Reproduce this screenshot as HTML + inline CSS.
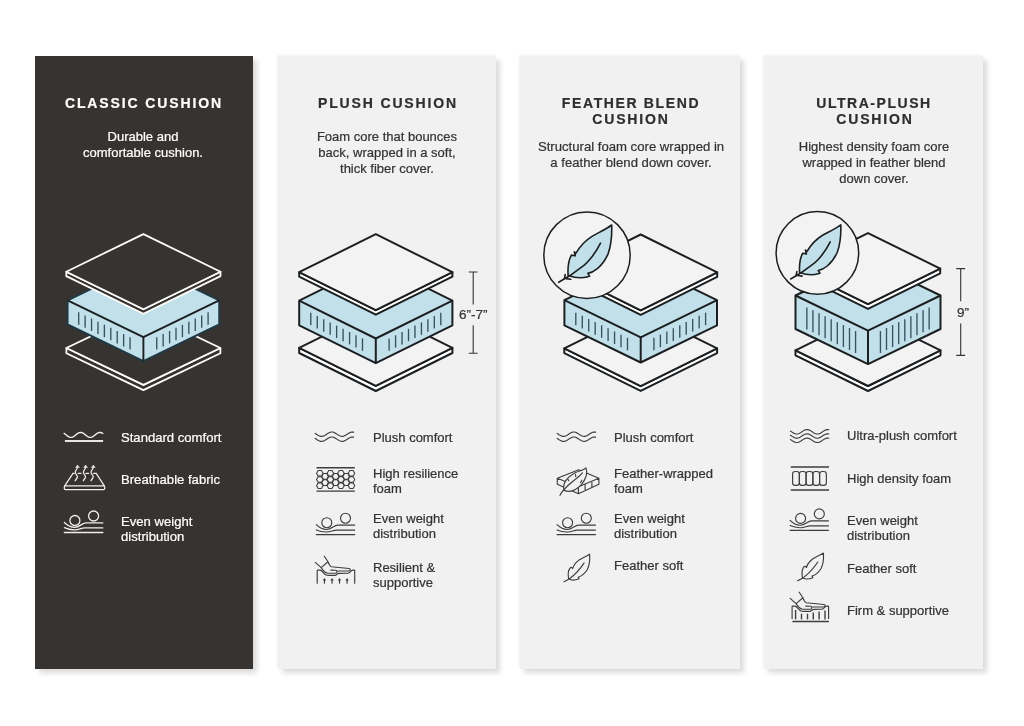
<!DOCTYPE html>
<html><head><meta charset="utf-8"><title>Cushion comparison</title>
<style>
html,body{margin:0;padding:0;background:#fff;}
html{width:1024px;height:726px;overflow:hidden;}
body{width:1024px;height:726px;position:relative;overflow:hidden;font-family:"Liberation Sans", sans-serif;}
.t{will-change:transform;-webkit-text-stroke:0.22px currentColor;}
.card{position:absolute;}
</style></head><body>
<div class="card" style="left:34.5px;top:56.4px;width:218.6px;height:612.4px;background:#363331;box-shadow:4px 4px 5px rgba(0,0,0,0.14)"></div>
<div class="card" style="left:277.7px;top:56.4px;width:218.2px;height:612.4px;background:#f1f1f1;box-shadow:4px 4px 5px rgba(0,0,0,0.14),-1px -1px 2px #f1f1f1"></div>
<div class="card" style="left:519.8px;top:56.4px;width:220.1px;height:612.4px;background:#f1f1f1;box-shadow:4px 4px 5px rgba(0,0,0,0.14),-1px -1px 2px #f1f1f1"></div>
<div class="card" style="left:764.0px;top:56.4px;width:218.8px;height:612.4px;background:#f1f1f1;box-shadow:4px 4px 5px rgba(0,0,0,0.14),-1px -1px 2px #f1f1f1"></div>
<div class="t" style="position:absolute;top:95px;left:36.04px;width:216px;text-align:center;font-size:14px;line-height:16px;color:#ffffff;font-weight:bold;letter-spacing:1.89px;white-space:nowrap;">CLASSIC CUSHION</div>
<div class="t" style="position:absolute;top:95px;left:279.93px;width:216px;text-align:center;font-size:14px;line-height:16px;color:#2e2e2e;font-weight:bold;letter-spacing:1.85px;white-space:nowrap;">PLUSH CUSHION</div>
<div class="t" style="position:absolute;top:95px;left:523.32px;width:216px;text-align:center;font-size:14px;line-height:16px;color:#2e2e2e;font-weight:bold;letter-spacing:1.63px;white-space:nowrap;">FEATHER BLEND</div>
<div class="t" style="position:absolute;top:111px;left:523.43px;width:216px;text-align:center;font-size:14px;line-height:16px;color:#2e2e2e;font-weight:bold;letter-spacing:1.87px;white-space:nowrap;">CUSHION</div>
<div class="t" style="position:absolute;top:95px;left:766.47px;width:216px;text-align:center;font-size:14px;line-height:16px;color:#2e2e2e;font-weight:bold;letter-spacing:1.54px;white-space:nowrap;">ULTRA-PLUSH</div>
<div class="t" style="position:absolute;top:111px;left:766.63px;width:216px;text-align:center;font-size:14px;line-height:16px;color:#2e2e2e;font-weight:bold;letter-spacing:1.87px;white-space:nowrap;">CUSHION</div>
<div class="t" style="position:absolute;top:129px;left:35.10px;width:216px;text-align:center;font-size:13px;line-height:16px;color:#ffffff;font-weight:normal;letter-spacing:0px;white-space:nowrap;">Durable and</div>
<div class="t" style="position:absolute;top:145px;left:35.10px;width:216px;text-align:center;font-size:13px;line-height:16px;color:#ffffff;font-weight:normal;letter-spacing:0px;white-space:nowrap;">comfortable cushion.</div>
<div class="t" style="position:absolute;top:129px;left:279.00px;width:216px;text-align:center;font-size:13px;line-height:16px;color:#333333;font-weight:normal;letter-spacing:0px;white-space:nowrap;">Foam core that bounces</div>
<div class="t" style="position:absolute;top:145px;left:279.00px;width:216px;text-align:center;font-size:13px;line-height:16px;color:#333333;font-weight:normal;letter-spacing:0px;white-space:nowrap;">back, wrapped in a soft,</div>
<div class="t" style="position:absolute;top:161px;left:279.00px;width:216px;text-align:center;font-size:13px;line-height:16px;color:#333333;font-weight:normal;letter-spacing:0px;white-space:nowrap;">thick fiber cover.</div>
<div class="t" style="position:absolute;top:139px;left:522.50px;width:216px;text-align:center;font-size:13.15px;line-height:16px;color:#333333;font-weight:normal;letter-spacing:0px;white-space:nowrap;">Structural foam core wrapped in</div>
<div class="t" style="position:absolute;top:155px;left:522.50px;width:216px;text-align:center;font-size:13.15px;line-height:16px;color:#333333;font-weight:normal;letter-spacing:0px;white-space:nowrap;">a feather blend down cover.</div>
<div class="t" style="position:absolute;top:139px;left:765.70px;width:216px;text-align:center;font-size:13px;line-height:16px;color:#333333;font-weight:normal;letter-spacing:0px;white-space:nowrap;">Highest density foam core</div>
<div class="t" style="position:absolute;top:155px;left:765.70px;width:216px;text-align:center;font-size:13px;line-height:16px;color:#333333;font-weight:normal;letter-spacing:0px;white-space:nowrap;">wrapped in feather blend</div>
<div class="t" style="position:absolute;top:171px;left:765.70px;width:216px;text-align:center;font-size:13px;line-height:16px;color:#333333;font-weight:normal;letter-spacing:0px;white-space:nowrap;">down cover.</div>
<div class="t" style="position:absolute;top:430px;left:121.30px;font-size:13.1px;line-height:16px;color:#ffffff;font-weight:normal;letter-spacing:0px;white-space:nowrap;">Standard comfort</div>
<div class="t" style="position:absolute;top:472px;left:121.30px;font-size:13.1px;line-height:16px;color:#ffffff;font-weight:normal;letter-spacing:0px;white-space:nowrap;">Breathable fabric</div>
<div class="t" style="position:absolute;top:514px;left:121.30px;font-size:13.1px;line-height:16px;color:#ffffff;font-weight:normal;letter-spacing:0px;white-space:nowrap;">Even weight</div>
<div class="t" style="position:absolute;top:529px;left:121.30px;font-size:13.1px;line-height:16px;color:#ffffff;font-weight:normal;letter-spacing:0px;white-space:nowrap;">distribution</div>
<div class="t" style="position:absolute;top:430px;left:373.10px;font-size:13px;line-height:16px;color:#333333;font-weight:normal;letter-spacing:0px;white-space:nowrap;">Plush comfort</div>
<div class="t" style="position:absolute;top:466px;left:373.10px;font-size:13px;line-height:16px;color:#333333;font-weight:normal;letter-spacing:0px;white-space:nowrap;">High resilience</div>
<div class="t" style="position:absolute;top:481px;left:373.10px;font-size:13px;line-height:16px;color:#333333;font-weight:normal;letter-spacing:0px;white-space:nowrap;">foam</div>
<div class="t" style="position:absolute;top:511px;left:373.10px;font-size:13px;line-height:16px;color:#333333;font-weight:normal;letter-spacing:0px;white-space:nowrap;">Even weight</div>
<div class="t" style="position:absolute;top:526px;left:373.10px;font-size:13px;line-height:16px;color:#333333;font-weight:normal;letter-spacing:0px;white-space:nowrap;">distribution</div>
<div class="t" style="position:absolute;top:560px;left:373.10px;font-size:13px;line-height:16px;color:#333333;font-weight:normal;letter-spacing:0px;white-space:nowrap;">Resilient &amp;</div>
<div class="t" style="position:absolute;top:575px;left:373.10px;font-size:13px;line-height:16px;color:#333333;font-weight:normal;letter-spacing:0px;white-space:nowrap;">supportive</div>
<div class="t" style="position:absolute;top:430px;left:614.10px;font-size:13px;line-height:16px;color:#333333;font-weight:normal;letter-spacing:0px;white-space:nowrap;">Plush comfort</div>
<div class="t" style="position:absolute;top:466px;left:614.10px;font-size:13px;line-height:16px;color:#333333;font-weight:normal;letter-spacing:0px;white-space:nowrap;">Feather-wrapped</div>
<div class="t" style="position:absolute;top:481px;left:614.10px;font-size:13px;line-height:16px;color:#333333;font-weight:normal;letter-spacing:0px;white-space:nowrap;">foam</div>
<div class="t" style="position:absolute;top:511px;left:614.10px;font-size:13px;line-height:16px;color:#333333;font-weight:normal;letter-spacing:0px;white-space:nowrap;">Even weight</div>
<div class="t" style="position:absolute;top:526px;left:614.10px;font-size:13px;line-height:16px;color:#333333;font-weight:normal;letter-spacing:0px;white-space:nowrap;">distribution</div>
<div class="t" style="position:absolute;top:558px;left:614.10px;font-size:13px;line-height:16px;color:#333333;font-weight:normal;letter-spacing:0px;white-space:nowrap;">Feather soft</div>
<div class="t" style="position:absolute;top:428px;left:847.30px;font-size:13px;line-height:16px;color:#333333;font-weight:normal;letter-spacing:0px;white-space:nowrap;">Ultra-plush comfort</div>
<div class="t" style="position:absolute;top:471px;left:847.30px;font-size:13px;line-height:16px;color:#333333;font-weight:normal;letter-spacing:0px;white-space:nowrap;">High density foam</div>
<div class="t" style="position:absolute;top:513px;left:847.30px;font-size:13px;line-height:16px;color:#333333;font-weight:normal;letter-spacing:0px;white-space:nowrap;">Even weight</div>
<div class="t" style="position:absolute;top:528px;left:847.30px;font-size:13px;line-height:16px;color:#333333;font-weight:normal;letter-spacing:0px;white-space:nowrap;">distribution</div>
<div class="t" style="position:absolute;top:561px;left:847.30px;font-size:13px;line-height:16px;color:#333333;font-weight:normal;letter-spacing:0px;white-space:nowrap;">Feather soft</div>
<div class="t" style="position:absolute;top:603px;left:847.30px;font-size:13px;line-height:16px;color:#333333;font-weight:normal;letter-spacing:0px;white-space:nowrap;">Firm &amp; supportive</div>
<div class="t" style="position:absolute;top:307px;left:459.30px;font-size:13.5px;line-height:16px;color:#333333;font-weight:normal;letter-spacing:0px;white-space:nowrap;">6”-7”</div>
<div class="t" style="position:absolute;top:305px;left:957.00px;font-size:13.5px;line-height:16px;color:#333333;font-weight:normal;letter-spacing:0px;white-space:nowrap;">9”</div>
<svg width="1024" height="726" viewBox="0 0 1024 726" style="position:absolute;left:0;top:0"><polygon points="66.40,348.00 66.40,353.20 143.40,390.10 220.40,353.20 220.40,348.00 143.40,384.90" fill="#363331" stroke="#ffffff" stroke-width="1.75" stroke-linejoin="round"/>
<polygon points="143.40,311.10 220.40,348.00 143.40,384.90 66.40,348.00" fill="#363331" stroke="#ffffff" stroke-width="1.75" stroke-linejoin="round"/>
<polygon points="143.40,263.60 219.20,300.40 219.20,324.40 143.40,361.20 67.60,324.40 67.60,300.40" fill="#c1e0e9" stroke="#1f3a44" stroke-width="1.9" stroke-linejoin="round"/>
<polyline points="67.60,300.40 143.40,337.20 219.20,300.40" fill="none" stroke="#1c1f21" stroke-width="1.9" stroke-linejoin="round"/>
<line x1="143.40" y1="337.20" x2="143.40" y2="361.20" stroke="#1c1f21" stroke-width="1.9"/>
<line x1="78.70" y1="312.29" x2="78.70" y2="324.69" stroke="#35535f" stroke-width="1.35"/>
<line x1="208.10" y1="312.29" x2="208.10" y2="324.69" stroke="#35535f" stroke-width="1.35"/>
<line x1="85.12" y1="315.41" x2="85.12" y2="327.81" stroke="#35535f" stroke-width="1.35"/>
<line x1="201.68" y1="315.41" x2="201.68" y2="327.81" stroke="#35535f" stroke-width="1.35"/>
<line x1="91.54" y1="318.52" x2="91.54" y2="330.92" stroke="#35535f" stroke-width="1.35"/>
<line x1="195.26" y1="318.52" x2="195.26" y2="330.92" stroke="#35535f" stroke-width="1.35"/>
<line x1="97.96" y1="321.64" x2="97.96" y2="334.04" stroke="#35535f" stroke-width="1.35"/>
<line x1="188.84" y1="321.64" x2="188.84" y2="334.04" stroke="#35535f" stroke-width="1.35"/>
<line x1="104.38" y1="324.76" x2="104.38" y2="337.16" stroke="#35535f" stroke-width="1.35"/>
<line x1="182.42" y1="324.76" x2="182.42" y2="337.16" stroke="#35535f" stroke-width="1.35"/>
<line x1="110.80" y1="327.87" x2="110.80" y2="340.27" stroke="#35535f" stroke-width="1.35"/>
<line x1="176.00" y1="327.87" x2="176.00" y2="340.27" stroke="#35535f" stroke-width="1.35"/>
<line x1="117.22" y1="330.99" x2="117.22" y2="343.39" stroke="#35535f" stroke-width="1.35"/>
<line x1="169.58" y1="330.99" x2="169.58" y2="343.39" stroke="#35535f" stroke-width="1.35"/>
<line x1="123.64" y1="334.11" x2="123.64" y2="346.51" stroke="#35535f" stroke-width="1.35"/>
<line x1="163.16" y1="334.11" x2="163.16" y2="346.51" stroke="#35535f" stroke-width="1.35"/>
<line x1="130.06" y1="337.22" x2="130.06" y2="349.62" stroke="#35535f" stroke-width="1.35"/>
<line x1="156.74" y1="337.22" x2="156.74" y2="349.62" stroke="#35535f" stroke-width="1.35"/>
<polygon points="66.30,271.70 66.30,276.10 143.40,313.70 220.50,276.10 220.50,271.70 143.40,309.30" fill="#363331" stroke="#ffffff" stroke-width="1.75" stroke-linejoin="round"/>
<polygon points="143.40,234.10 220.50,271.70 143.40,309.30 66.30,271.70" fill="#363331" stroke="#ffffff" stroke-width="1.75" stroke-linejoin="round"/>
<polygon points="299.20,347.80 299.20,353.00 375.80,391.00 452.40,353.00 452.40,347.80 375.80,385.80" fill="#ffffff" stroke="#1c1f21" stroke-width="2.0" stroke-linejoin="round"/>
<polygon points="375.80,309.80 452.40,347.80 375.80,385.80 299.20,347.80" fill="#f3f3f3" stroke="#1c1f21" stroke-width="2.0" stroke-linejoin="round"/>
<polygon points="375.80,262.70 452.40,300.60 452.40,325.30 375.80,363.20 299.20,325.30 299.20,300.60" fill="#c1e0e9" stroke="#1c1f21" stroke-width="2.0" stroke-linejoin="round"/>
<polyline points="299.20,300.60 375.80,338.50 452.40,300.60" fill="none" stroke="#1c1f21" stroke-width="2.0" stroke-linejoin="round"/>
<line x1="375.80" y1="338.50" x2="375.80" y2="363.20" stroke="#1c1f21" stroke-width="2.0"/>
<line x1="310.80" y1="312.84" x2="310.80" y2="325.24" stroke="#35535f" stroke-width="1.35"/>
<line x1="440.80" y1="312.84" x2="440.80" y2="325.24" stroke="#35535f" stroke-width="1.35"/>
<line x1="317.26" y1="316.04" x2="317.26" y2="328.44" stroke="#35535f" stroke-width="1.35"/>
<line x1="434.34" y1="316.04" x2="434.34" y2="328.44" stroke="#35535f" stroke-width="1.35"/>
<line x1="323.72" y1="319.23" x2="323.72" y2="331.63" stroke="#35535f" stroke-width="1.35"/>
<line x1="427.88" y1="319.23" x2="427.88" y2="331.63" stroke="#35535f" stroke-width="1.35"/>
<line x1="330.18" y1="322.43" x2="330.18" y2="334.83" stroke="#35535f" stroke-width="1.35"/>
<line x1="421.42" y1="322.43" x2="421.42" y2="334.83" stroke="#35535f" stroke-width="1.35"/>
<line x1="336.64" y1="325.62" x2="336.64" y2="338.02" stroke="#35535f" stroke-width="1.35"/>
<line x1="414.96" y1="325.62" x2="414.96" y2="338.02" stroke="#35535f" stroke-width="1.35"/>
<line x1="343.10" y1="328.82" x2="343.10" y2="341.22" stroke="#35535f" stroke-width="1.35"/>
<line x1="408.50" y1="328.82" x2="408.50" y2="341.22" stroke="#35535f" stroke-width="1.35"/>
<line x1="349.56" y1="332.02" x2="349.56" y2="344.42" stroke="#35535f" stroke-width="1.35"/>
<line x1="402.04" y1="332.02" x2="402.04" y2="344.42" stroke="#35535f" stroke-width="1.35"/>
<line x1="356.02" y1="335.21" x2="356.02" y2="347.61" stroke="#35535f" stroke-width="1.35"/>
<line x1="395.58" y1="335.21" x2="395.58" y2="347.61" stroke="#35535f" stroke-width="1.35"/>
<line x1="362.48" y1="338.41" x2="362.48" y2="350.81" stroke="#35535f" stroke-width="1.35"/>
<line x1="389.12" y1="338.41" x2="389.12" y2="350.81" stroke="#35535f" stroke-width="1.35"/>
<polygon points="299.20,272.20 299.20,276.70 375.80,314.70 452.40,276.70 452.40,272.20 375.80,310.20" fill="#ffffff" stroke="#1c1f21" stroke-width="2.0" stroke-linejoin="round"/>
<polygon points="375.80,234.20 452.40,272.20 375.80,310.20 299.20,272.20" fill="#f3f3f3" stroke="#1c1f21" stroke-width="2.0" stroke-linejoin="round"/>
<path d="M468.8,272.0 H477.59999999999997 M468.8,353.3 H477.59999999999997 M473.2,272.0 V304.6 M473.2,325.3 V353.3" stroke="#333" stroke-width="1.1" fill="none"/>
<polygon points="564.30,348.40 564.30,353.10 640.70,390.90 717.10,353.10 717.10,348.40 640.70,386.20" fill="#ffffff" stroke="#1c1f21" stroke-width="2.0" stroke-linejoin="round"/>
<polygon points="640.70,310.60 717.10,348.40 640.70,386.20 564.30,348.40" fill="#f3f3f3" stroke="#1c1f21" stroke-width="2.0" stroke-linejoin="round"/>
<polygon points="640.70,263.10 717.00,300.20 717.00,325.40 640.70,362.50 564.40,325.40 564.40,300.20" fill="#c1e0e9" stroke="#1c1f21" stroke-width="2.0" stroke-linejoin="round"/>
<polyline points="564.40,300.20 640.70,337.30 717.00,300.20" fill="none" stroke="#1c1f21" stroke-width="2.0" stroke-linejoin="round"/>
<line x1="640.70" y1="337.30" x2="640.70" y2="362.50" stroke="#1c1f21" stroke-width="2.0"/>
<line x1="575.80" y1="312.64" x2="575.80" y2="325.24" stroke="#35535f" stroke-width="1.35"/>
<line x1="705.60" y1="312.64" x2="705.60" y2="325.24" stroke="#35535f" stroke-width="1.35"/>
<line x1="582.26" y1="315.78" x2="582.26" y2="328.38" stroke="#35535f" stroke-width="1.35"/>
<line x1="699.14" y1="315.78" x2="699.14" y2="328.38" stroke="#35535f" stroke-width="1.35"/>
<line x1="588.72" y1="318.93" x2="588.72" y2="331.53" stroke="#35535f" stroke-width="1.35"/>
<line x1="692.68" y1="318.93" x2="692.68" y2="331.53" stroke="#35535f" stroke-width="1.35"/>
<line x1="595.18" y1="322.07" x2="595.18" y2="334.67" stroke="#35535f" stroke-width="1.35"/>
<line x1="686.22" y1="322.07" x2="686.22" y2="334.67" stroke="#35535f" stroke-width="1.35"/>
<line x1="601.64" y1="325.21" x2="601.64" y2="337.81" stroke="#35535f" stroke-width="1.35"/>
<line x1="679.76" y1="325.21" x2="679.76" y2="337.81" stroke="#35535f" stroke-width="1.35"/>
<line x1="608.10" y1="328.35" x2="608.10" y2="340.95" stroke="#35535f" stroke-width="1.35"/>
<line x1="673.30" y1="328.35" x2="673.30" y2="340.95" stroke="#35535f" stroke-width="1.35"/>
<line x1="614.56" y1="331.49" x2="614.56" y2="344.09" stroke="#35535f" stroke-width="1.35"/>
<line x1="666.84" y1="331.49" x2="666.84" y2="344.09" stroke="#35535f" stroke-width="1.35"/>
<line x1="621.02" y1="334.63" x2="621.02" y2="347.23" stroke="#35535f" stroke-width="1.35"/>
<line x1="660.38" y1="334.63" x2="660.38" y2="347.23" stroke="#35535f" stroke-width="1.35"/>
<line x1="627.48" y1="337.77" x2="627.48" y2="350.37" stroke="#35535f" stroke-width="1.35"/>
<line x1="653.92" y1="337.77" x2="653.92" y2="350.37" stroke="#35535f" stroke-width="1.35"/>
<polygon points="564.20,272.40 564.20,276.90 640.70,314.80 717.20,276.90 717.20,272.40 640.70,310.30" fill="#ffffff" stroke="#1c1f21" stroke-width="2.0" stroke-linejoin="round"/>
<polygon points="640.70,234.50 717.20,272.40 640.70,310.30 564.20,272.40" fill="#f3f3f3" stroke="#1c1f21" stroke-width="2.0" stroke-linejoin="round"/>
<circle cx="587" cy="255.2" r="43.2" fill="#f3f3f3" stroke="#1c1f21" stroke-width="1.5"/>
<path d="M611.70,225.00 C605.70,229.50 597.70,233.00 592.40,236.10 C587.70,239.00 580.70,245.00 576.00,253.20 L574.30,251.80 L575.30,255.80 L571.40,255.10 C569.20,259.00 567.50,266.00 568.10,275.40 C573.70,277.50 581.70,278.60 587.80,276.70 L589.70,276.10 L587.80,273.40 C592.70,272.50 601.70,268.00 608.10,253.80 C611.20,245.00 612.00,234.00 611.70,225.00 Z" fill="#c1e0e9" stroke="#1c1f21" stroke-width="1.6" stroke-linejoin="round"/>
<path d="M600.50,243.10 C595.70,253.00 587.70,263.00 581.90,266.90 C575.70,272.00 566.70,278.00 558.70,282.30" fill="none" stroke="#1c1f21" stroke-width="1.6" stroke-linecap="round"/>
<path d="M565.20,274.50 L564.40,278.80 M570.70,279.30 L566.20,278.60" fill="none" stroke="#1c1f21" stroke-width="1.6" stroke-linecap="round"/>
<polygon points="795.50,350.30 795.50,355.30 868.00,391.00 940.50,355.30 940.50,350.30 868.00,386.00" fill="#ffffff" stroke="#1c1f21" stroke-width="2.0" stroke-linejoin="round"/>
<polygon points="868.00,314.60 940.50,350.30 868.00,386.00 795.50,350.30" fill="#f3f3f3" stroke="#1c1f21" stroke-width="2.0" stroke-linejoin="round"/>
<polygon points="868.00,260.40 940.50,295.50 940.50,329.00 868.00,364.10 795.50,329.00 795.50,295.50" fill="#c1e0e9" stroke="#1c1f21" stroke-width="2.0" stroke-linejoin="round"/>
<polyline points="795.50,295.50 868.00,330.60 940.50,295.50" fill="none" stroke="#1c1f21" stroke-width="2.0" stroke-linejoin="round"/>
<line x1="868.00" y1="330.60" x2="868.00" y2="364.10" stroke="#1c1f21" stroke-width="2.0"/>
<line x1="806.85" y1="307.39" x2="806.85" y2="329.39" stroke="#35535f" stroke-width="1.35"/>
<line x1="929.15" y1="307.39" x2="929.15" y2="329.39" stroke="#35535f" stroke-width="1.35"/>
<line x1="812.94" y1="310.34" x2="812.94" y2="332.34" stroke="#35535f" stroke-width="1.35"/>
<line x1="923.06" y1="310.34" x2="923.06" y2="332.34" stroke="#35535f" stroke-width="1.35"/>
<line x1="819.03" y1="313.29" x2="819.03" y2="335.29" stroke="#35535f" stroke-width="1.35"/>
<line x1="916.97" y1="313.29" x2="916.97" y2="335.29" stroke="#35535f" stroke-width="1.35"/>
<line x1="825.12" y1="316.24" x2="825.12" y2="338.24" stroke="#35535f" stroke-width="1.35"/>
<line x1="910.88" y1="316.24" x2="910.88" y2="338.24" stroke="#35535f" stroke-width="1.35"/>
<line x1="831.21" y1="319.19" x2="831.21" y2="341.19" stroke="#35535f" stroke-width="1.35"/>
<line x1="904.79" y1="319.19" x2="904.79" y2="341.19" stroke="#35535f" stroke-width="1.35"/>
<line x1="837.30" y1="322.14" x2="837.30" y2="344.14" stroke="#35535f" stroke-width="1.35"/>
<line x1="898.70" y1="322.14" x2="898.70" y2="344.14" stroke="#35535f" stroke-width="1.35"/>
<line x1="843.39" y1="325.09" x2="843.39" y2="347.09" stroke="#35535f" stroke-width="1.35"/>
<line x1="892.61" y1="325.09" x2="892.61" y2="347.09" stroke="#35535f" stroke-width="1.35"/>
<line x1="849.48" y1="328.03" x2="849.48" y2="350.03" stroke="#35535f" stroke-width="1.35"/>
<line x1="886.52" y1="328.03" x2="886.52" y2="350.03" stroke="#35535f" stroke-width="1.35"/>
<line x1="855.57" y1="330.98" x2="855.57" y2="352.98" stroke="#35535f" stroke-width="1.35"/>
<line x1="880.43" y1="330.98" x2="880.43" y2="352.98" stroke="#35535f" stroke-width="1.35"/>
<polygon points="795.80,268.60 795.80,273.40 868.00,308.90 940.20,273.40 940.20,268.60 868.00,304.10" fill="#ffffff" stroke="#1c1f21" stroke-width="2.0" stroke-linejoin="round"/>
<polygon points="868.00,233.10 940.20,268.60 868.00,304.10 795.80,268.60" fill="#f3f3f3" stroke="#1c1f21" stroke-width="2.0" stroke-linejoin="round"/>
<circle cx="817.4" cy="252.9" r="41.3" fill="#f3f3f3" stroke="#1c1f21" stroke-width="1.5"/>
<path d="M840.80,224.80 C835.13,229.05 827.57,232.36 822.56,235.29 C818.12,238.03 811.50,243.70 807.06,251.45 L805.46,250.13 L806.40,253.91 L802.72,253.24 C800.64,256.93 799.03,263.55 799.60,272.43 C804.89,274.41 812.45,275.45 818.21,273.66 L820.01,273.09 L818.21,270.54 C822.84,269.69 831.35,265.44 837.40,252.02 C840.33,243.70 841.08,233.31 840.80,224.80 Z" fill="#c1e0e9" stroke="#1c1f21" stroke-width="1.6" stroke-linejoin="round"/>
<path d="M830.22,241.90 C825.68,251.26 818.12,260.71 812.64,264.40 C806.78,269.22 798.27,274.88 790.71,278.95" fill="none" stroke="#1c1f21" stroke-width="1.6" stroke-linecap="round"/>
<path d="M796.86,271.58 L796.10,275.64 M802.05,276.11 L797.80,275.45" fill="none" stroke="#1c1f21" stroke-width="1.6" stroke-linecap="round"/>
<path d="M956.3000000000001,268.6 H965.1 M956.3000000000001,355.4 H965.1 M960.7,268.6 V301.2 M960.7,323.5 V355.4" stroke="#333" stroke-width="1.1" fill="none"/>
<polyline points="64.10,433.37 64.91,433.94 65.72,434.57 66.52,435.22 67.33,435.86 68.14,436.43 68.95,436.89 69.76,437.21 70.57,437.38 71.38,437.38 72.18,437.20 72.99,436.87 73.80,436.40 74.61,435.83 75.42,435.19 76.22,434.54 77.03,433.90 77.84,433.34 78.65,432.89 79.46,432.57 80.27,432.41 81.07,432.43 81.88,432.62 82.69,432.96 83.50,433.43 84.31,434.01 85.12,434.65 85.92,435.31 86.73,435.93 87.54,436.49 88.35,436.94 89.16,437.24 89.97,437.39 90.77,437.36 91.58,437.17 92.39,436.82 93.20,436.33 94.01,435.75 94.82,435.11 95.62,434.45 96.43,433.83 97.24,433.28 98.05,432.84 98.86,432.54 99.67,432.41 100.47,432.44 101.28,432.65 102.09,433.01 102.90,433.50" fill="none" stroke="#f0efee" stroke-width="1.4" stroke-linecap="round" stroke-linejoin="round"/>
<rect x="64.90" y="440.05" width="38.2" height="1.9" fill="#f0efee"/>
<path d="M73.00,473.45 H74.10 M78.30,473.45 H80.90 M85.90,473.45 H88.60 M93.60,473.45 H96.20 M73.00,473.45 L64.70,485.85 M96.20,473.45 L104.30,485.85" fill="none" stroke="#f0efee" stroke-width="1.25" stroke-linecap="round" stroke-linejoin="round"/>
<rect x="64.30" y="485.95" width="40.4" height="3.65" rx="1.1" fill="none" stroke="#f0efee" stroke-width="1.25"/>
<path d="M75.20,480.70 C76.00,478.95 77.80,478.05 77.40,476.45 C77.00,474.85 74.80,473.65 75.30,471.85 C75.70,470.25 77.20,469.25 77.50,467.25" fill="none" stroke="#f0efee" stroke-width="1.25" stroke-linecap="round"/>
<path d="M75.50,467.55 L77.50,465.05 L79.50,467.55 Z" fill="#f0efee" stroke="#f0efee" stroke-width="0.4" stroke-linejoin="round"/>
<path d="M83.30,480.70 C84.10,478.95 85.90,478.05 85.50,476.45 C85.10,474.85 82.90,473.65 83.40,471.85 C83.80,470.25 85.30,469.25 85.60,467.25" fill="none" stroke="#f0efee" stroke-width="1.25" stroke-linecap="round"/>
<path d="M83.60,467.55 L85.60,465.05 L87.60,467.55 Z" fill="#f0efee" stroke="#f0efee" stroke-width="0.4" stroke-linejoin="round"/>
<path d="M91.00,480.70 C91.80,478.95 93.60,478.05 93.20,476.45 C92.80,474.85 90.60,473.65 91.10,471.85 C91.50,470.25 93.00,469.25 93.30,467.25" fill="none" stroke="#f0efee" stroke-width="1.25" stroke-linecap="round"/>
<path d="M91.30,467.55 L93.30,465.05 L95.30,467.55 Z" fill="#f0efee" stroke="#f0efee" stroke-width="0.4" stroke-linejoin="round"/>
<circle cx="74.90" cy="520.50" r="5.0" fill="none" stroke="#f0efee" stroke-width="1.3"/>
<circle cx="93.60" cy="516.00" r="5.0" fill="none" stroke="#f0efee" stroke-width="1.3"/>
<path d="M64.40,522.50 C67.40,525.50 70.90,527.30 74.60,527.30 C79.90,527.30 81.90,522.90 86.00,522.90 H102.80" fill="none" stroke="#f0efee" stroke-width="1.3" stroke-linecap="round"/>
<path d="M64.40,527.70 C68.40,529.50 71.40,529.90 74.90,529.80 C79.40,529.70 80.90,527.90 84.90,527.90 H102.80" fill="none" stroke="#f0efee" stroke-width="1.3" stroke-linecap="round"/>
<path d="M64.40,532.40 H102.80" fill="none" stroke="#f0efee" stroke-width="1.49" stroke-linecap="round"/>
<polyline points="315.20,433.41 316.16,434.04 317.12,434.68 318.08,435.28 319.04,435.79 320.00,436.16 320.96,436.36 321.92,436.39 322.88,436.22 323.84,435.88 324.80,435.40 325.76,434.82 326.72,434.19 327.68,433.55 328.64,432.97 329.60,432.50 330.56,432.17 331.52,432.01 332.48,432.04 333.44,432.25 334.40,432.63 335.36,433.14 336.32,433.75 337.28,434.39 338.24,435.01 339.20,435.57 340.16,436.01 341.12,436.29 342.08,436.40 343.04,436.32 344.00,436.06 344.96,435.64 345.92,435.10 346.88,434.48 347.84,433.84 348.80,433.23 349.76,432.70 350.72,432.30 351.68,432.06 352.64,432.00 353.60,432.13" fill="none" stroke="#3d3d3d" stroke-width="1.15" stroke-linecap="round" stroke-linejoin="round"/>
<polyline points="315.20,438.41 316.16,439.04 317.12,439.68 318.08,440.28 319.04,440.79 320.00,441.16 320.96,441.36 321.92,441.39 322.88,441.22 323.84,440.88 324.80,440.40 325.76,439.82 326.72,439.19 327.68,438.55 328.64,437.97 329.60,437.50 330.56,437.17 331.52,437.01 332.48,437.04 333.44,437.25 334.40,437.63 335.36,438.14 336.32,438.75 337.28,439.39 338.24,440.01 339.20,440.57 340.16,441.01 341.12,441.29 342.08,441.40 343.04,441.32 344.00,441.06 344.96,440.64 345.92,440.10 346.88,439.48 347.84,438.84 348.80,438.23 349.76,437.70 350.72,437.30 351.68,437.06 352.64,437.00 353.60,437.13" fill="none" stroke="#3d3d3d" stroke-width="1.15" stroke-linecap="round" stroke-linejoin="round"/>
<path d="M316.5,467.8 H354.8 M316.5,491.1 H354.8" stroke="#3d3d3d" stroke-width="1.38" fill="none"/>
<polygon points="323.05,473.30 321.43,476.11 318.18,476.11 316.55,473.30 318.18,470.49 321.43,470.49" fill="none" stroke="#3d3d3d" stroke-width="1.035"/>
<polygon points="323.05,479.50 321.43,482.31 318.18,482.31 316.55,479.50 318.18,476.69 321.43,476.69" fill="none" stroke="#3d3d3d" stroke-width="1.035"/>
<polygon points="323.05,485.70 321.43,488.51 318.18,488.51 316.55,485.70 318.18,482.89 321.43,482.89" fill="none" stroke="#3d3d3d" stroke-width="1.035"/>
<polygon points="328.33,476.40 326.70,479.21 323.45,479.21 321.83,476.40 323.45,473.59 326.70,473.59" fill="none" stroke="#3d3d3d" stroke-width="1.035"/>
<polygon points="328.33,482.60 326.70,485.41 323.45,485.41 321.83,482.60 323.45,479.79 326.70,479.79" fill="none" stroke="#3d3d3d" stroke-width="1.035"/>
<polygon points="333.61,473.30 331.99,476.11 328.74,476.11 327.11,473.30 328.74,470.49 331.99,470.49" fill="none" stroke="#3d3d3d" stroke-width="1.035"/>
<polygon points="333.61,479.50 331.99,482.31 328.74,482.31 327.11,479.50 328.74,476.69 331.99,476.69" fill="none" stroke="#3d3d3d" stroke-width="1.035"/>
<polygon points="333.61,485.70 331.99,488.51 328.74,488.51 327.11,485.70 328.74,482.89 331.99,482.89" fill="none" stroke="#3d3d3d" stroke-width="1.035"/>
<polygon points="338.89,476.40 337.26,479.21 334.01,479.21 332.39,476.40 334.01,473.59 337.26,473.59" fill="none" stroke="#3d3d3d" stroke-width="1.035"/>
<polygon points="338.89,482.60 337.26,485.41 334.01,485.41 332.39,482.60 334.01,479.79 337.26,479.79" fill="none" stroke="#3d3d3d" stroke-width="1.035"/>
<polygon points="344.17,473.30 342.55,476.11 339.30,476.11 337.67,473.30 339.30,470.49 342.55,470.49" fill="none" stroke="#3d3d3d" stroke-width="1.035"/>
<polygon points="344.17,479.50 342.55,482.31 339.30,482.31 337.67,479.50 339.30,476.69 342.55,476.69" fill="none" stroke="#3d3d3d" stroke-width="1.035"/>
<polygon points="344.17,485.70 342.55,488.51 339.30,488.51 337.67,485.70 339.30,482.89 342.55,482.89" fill="none" stroke="#3d3d3d" stroke-width="1.035"/>
<polygon points="349.45,476.40 347.82,479.21 344.57,479.21 342.95,476.40 344.57,473.59 347.82,473.59" fill="none" stroke="#3d3d3d" stroke-width="1.035"/>
<polygon points="349.45,482.60 347.82,485.41 344.57,485.41 342.95,482.60 344.57,479.79 347.82,479.79" fill="none" stroke="#3d3d3d" stroke-width="1.035"/>
<polygon points="354.73,473.30 353.11,476.11 349.86,476.11 348.23,473.30 349.86,470.49 353.11,470.49" fill="none" stroke="#3d3d3d" stroke-width="1.035"/>
<polygon points="354.73,479.50 353.11,482.31 349.86,482.31 348.23,479.50 349.86,476.69 353.11,476.69" fill="none" stroke="#3d3d3d" stroke-width="1.035"/>
<polygon points="354.73,485.70 353.11,488.51 349.86,488.51 348.23,485.70 349.86,482.89 353.11,482.89" fill="none" stroke="#3d3d3d" stroke-width="1.035"/>
<circle cx="326.80" cy="522.70" r="5.0" fill="none" stroke="#3d3d3d" stroke-width="1.15"/>
<circle cx="345.50" cy="518.20" r="5.0" fill="none" stroke="#3d3d3d" stroke-width="1.15"/>
<path d="M316.30,524.70 C319.30,527.70 322.80,529.50 326.50,529.50 C331.80,529.50 333.80,525.10 337.90,525.10 H354.70" fill="none" stroke="#3d3d3d" stroke-width="1.15" stroke-linecap="round"/>
<path d="M316.30,529.90 C320.30,531.70 323.30,532.10 326.80,532.00 C331.30,531.90 332.80,530.10 336.80,530.10 H354.70" fill="none" stroke="#3d3d3d" stroke-width="1.15" stroke-linecap="round"/>
<path d="M316.30,534.60 H354.70" fill="none" stroke="#3d3d3d" stroke-width="1.32" stroke-linecap="round"/>
<path d="M324.30,556.20 L328.00,561.70 M315.30,562.40 L321.20,567.60 M328.00,561.70 L321.20,567.60 M328.00,561.70 C328.70,564.10 329.70,566.10 331.40,566.80 L349.00,568.50 C350.80,568.70 350.80,571.00 348.80,571.00 L337.80,571.00 M330.80,570.10 L335.60,570.30 C337.40,570.40 337.40,573.20 335.50,573.20 L327.60,573.20 M321.20,567.60 C322.70,570.10 324.40,572.50 327.60,573.20" fill="none" stroke="#3d3d3d" stroke-width="1.15" stroke-linecap="round" stroke-linejoin="round"/>
<path d="M317.20,583.70 V570.70 Q317.20,570.10 317.80,570.10 L320.20,570.10 C322.20,570.50 323.70,573.60 325.60,574.70 C326.80,575.40 327.80,575.40 329.00,575.40 L335.00,575.40 C336.80,575.40 337.00,573.40 338.80,573.40 L348.00,573.20 C350.20,573.10 350.80,570.30 352.80,570.10 L354.10,570.10 Q354.70,570.10 354.70,570.70 V583.70" fill="none" stroke="#3d3d3d" stroke-width="1.15" stroke-linecap="butt" stroke-linejoin="round"/>
<path d="M324.45,583.70 V579.70" stroke="#3d3d3d" stroke-width="1.15" fill="none"/>
<path d="M322.75,580.50 L324.45,578.10 L326.15,580.50 Z" fill="#3d3d3d" stroke="none"/>
<path d="M332.05,583.70 V579.70" stroke="#3d3d3d" stroke-width="1.15" fill="none"/>
<path d="M330.35,580.50 L332.05,578.10 L333.75,580.50 Z" fill="#3d3d3d" stroke="none"/>
<path d="M339.50,583.70 V579.70" stroke="#3d3d3d" stroke-width="1.15" fill="none"/>
<path d="M337.80,580.50 L339.50,578.10 L341.20,580.50 Z" fill="#3d3d3d" stroke="none"/>
<path d="M347.10,583.70 V579.70" stroke="#3d3d3d" stroke-width="1.15" fill="none"/>
<path d="M345.40,580.50 L347.10,578.10 L348.80,580.50 Z" fill="#3d3d3d" stroke="none"/>
<polyline points="557.20,433.41 558.16,434.04 559.12,434.68 560.08,435.28 561.04,435.79 562.00,436.16 562.96,436.36 563.92,436.39 564.88,436.22 565.84,435.88 566.80,435.40 567.76,434.82 568.72,434.19 569.68,433.55 570.64,432.97 571.60,432.50 572.56,432.17 573.52,432.01 574.48,432.04 575.44,432.25 576.40,432.63 577.36,433.14 578.32,433.75 579.28,434.39 580.24,435.01 581.20,435.57 582.16,436.01 583.12,436.29 584.08,436.40 585.04,436.32 586.00,436.06 586.96,435.64 587.92,435.10 588.88,434.48 589.84,433.84 590.80,433.23 591.76,432.70 592.72,432.30 593.68,432.06 594.64,432.00 595.60,432.13" fill="none" stroke="#3d3d3d" stroke-width="1.15" stroke-linecap="round" stroke-linejoin="round"/>
<polyline points="557.20,438.41 558.16,439.04 559.12,439.68 560.08,440.28 561.04,440.79 562.00,441.16 562.96,441.36 563.92,441.39 564.88,441.22 565.84,440.88 566.80,440.40 567.76,439.82 568.72,439.19 569.68,438.55 570.64,437.97 571.60,437.50 572.56,437.17 573.52,437.01 574.48,437.04 575.44,437.25 576.40,437.63 577.36,438.14 578.32,438.75 579.28,439.39 580.24,440.01 581.20,440.57 582.16,441.01 583.12,441.29 584.08,441.40 585.04,441.32 586.00,441.06 586.96,440.64 587.92,440.10 588.88,439.48 589.84,438.84 590.80,438.23 591.76,437.70 592.72,437.30 593.68,437.06 594.64,437.00 595.60,437.13" fill="none" stroke="#3d3d3d" stroke-width="1.15" stroke-linecap="round" stroke-linejoin="round"/>
<path d="M557.30,478.20 L578.70,469.70 L598.90,478.20 L578.40,486.70 Z M557.30,478.20 V484.30 L578.40,493.70 L598.90,484.30 V478.20 M578.40,486.70 V493.70 M585.10,484.00 V490.70 M591.90,481.20 V487.60" fill="none" stroke="#3d3d3d" stroke-width="1.15" stroke-linejoin="round"/>
<path d="M586.00,467.90 C583.30,470.70 579.30,470.70 575.30,472.70 C570.30,475.20 566.30,479.20 564.30,483.20 C563.30,486.20 563.50,488.70 564.10,490.40 C567.30,491.70 572.30,491.40 575.80,489.20 C580.30,486.70 584.30,481.20 586.10,476.20 C586.90,473.20 586.90,470.20 586.00,467.90 Z" fill="#f1f1f1" stroke="#3d3d3d" stroke-width="1.15" stroke-linejoin="round"/>
<path d="M582.5,472.8 C578,478 570,483 566,487.5 C563,490.5 561,493 560,495.4 M567.9,479.3 L568.7,480.6 M575.5,474.6 L575.8,476.7 M581.9,480.2 L580.5,482.6" fill="none" stroke="#3d3d3d" stroke-width="1.15" stroke-linecap="round"/>
<circle cx="567.60" cy="522.70" r="5.0" fill="none" stroke="#3d3d3d" stroke-width="1.15"/>
<circle cx="586.30" cy="518.20" r="5.0" fill="none" stroke="#3d3d3d" stroke-width="1.15"/>
<path d="M557.10,524.70 C560.10,527.70 563.60,529.50 567.30,529.50 C572.60,529.50 574.60,525.10 578.70,525.10 H595.50" fill="none" stroke="#3d3d3d" stroke-width="1.15" stroke-linecap="round"/>
<path d="M557.10,529.90 C561.10,531.70 564.10,532.10 567.60,532.00 C572.10,531.90 573.60,530.10 577.60,530.10 H595.50" fill="none" stroke="#3d3d3d" stroke-width="1.15" stroke-linecap="round"/>
<path d="M557.10,534.60 H595.50" fill="none" stroke="#3d3d3d" stroke-width="1.32" stroke-linecap="round"/>
<path d="M589.60,554.20 C585.60,556.70 581.60,558.20 579.10,559.90 C576.10,562.20 573.60,565.20 572.60,568.60 C572.20,567.40 571.00,567.00 570.20,567.80 C568.60,569.70 567.80,574.20 568.60,578.80 C570.60,580.00 574.60,580.60 579.10,578.80 L578.20,577.20 C581.60,576.20 584.60,573.70 587.20,569.80 C589.00,566.20 590.00,559.20 589.60,554.20 Z" fill="none" stroke="#3d3d3d" stroke-width="1.15" stroke-linejoin="round"/>
<path d="M584.00,563.10 C580.60,568.20 575.60,574.20 569.80,578.50 C567.60,580.00 565.60,581.00 563.90,581.70" fill="none" stroke="#3d3d3d" stroke-width="1.15" stroke-linecap="round"/>
<polyline points="790.40,431.01 791.36,431.64 792.32,432.28 793.29,432.88 794.25,433.39 795.21,433.76 796.17,433.97 797.14,433.98 798.10,433.82 799.06,433.48 800.02,432.99 800.99,432.40 801.95,431.77 802.91,431.13 803.88,430.55 804.84,430.08 805.80,429.76 806.76,429.61 807.73,429.65 808.69,429.87 809.65,430.26 810.61,430.78 811.57,431.38 812.54,432.03 813.50,432.65 814.46,433.20 815.42,433.63 816.39,433.91 817.35,434.00 818.31,433.91 819.27,433.63 820.24,433.20 821.20,432.65 822.16,432.03 823.12,431.38 824.09,430.78 825.05,430.26 826.01,429.87 826.98,429.65 827.94,429.61 828.90,429.76" fill="none" stroke="#3d3d3d" stroke-width="1.15" stroke-linecap="round" stroke-linejoin="round"/>
<polyline points="790.40,435.21 791.36,435.84 792.32,436.48 793.29,437.08 794.25,437.59 795.21,437.96 796.17,438.17 797.14,438.18 798.10,438.02 799.06,437.68 800.02,437.19 800.99,436.60 801.95,435.97 802.91,435.33 803.88,434.75 804.84,434.28 805.80,433.96 806.76,433.81 807.73,433.85 808.69,434.07 809.65,434.46 810.61,434.98 811.57,435.58 812.54,436.23 813.50,436.85 814.46,437.40 815.42,437.83 816.39,438.11 817.35,438.20 818.31,438.11 819.27,437.83 820.24,437.40 821.20,436.85 822.16,436.23 823.12,435.58 824.09,434.98 825.05,434.46 826.01,434.07 826.98,433.85 827.94,433.81 828.90,433.96" fill="none" stroke="#3d3d3d" stroke-width="1.15" stroke-linecap="round" stroke-linejoin="round"/>
<polyline points="790.40,439.51 791.36,440.14 792.32,440.78 793.29,441.38 794.25,441.89 795.21,442.26 796.17,442.47 797.14,442.48 798.10,442.32 799.06,441.98 800.02,441.49 800.99,440.90 801.95,440.27 802.91,439.63 803.88,439.05 804.84,438.58 805.80,438.26 806.76,438.11 807.73,438.15 808.69,438.37 809.65,438.76 810.61,439.28 811.57,439.88 812.54,440.53 813.50,441.15 814.46,441.70 815.42,442.13 816.39,442.41 817.35,442.50 818.31,442.41 819.27,442.13 820.24,441.70 821.20,441.15 822.16,440.53 823.12,439.88 824.09,439.28 825.05,438.76 826.01,438.37 826.98,438.15 827.94,438.11 828.90,438.26" fill="none" stroke="#3d3d3d" stroke-width="1.15" stroke-linecap="round" stroke-linejoin="round"/>
<path d="M790.7,466.9 H829.0 M790.7,489.9 H829.0" stroke="#3d3d3d" stroke-width="1.4949999999999999" fill="none"/>
<rect x="792.60" y="471.50" width="6.75" height="13.8" rx="2.6" fill="none" stroke="#3d3d3d" stroke-width="1.15"/>
<rect x="799.35" y="471.50" width="6.75" height="13.8" rx="2.6" fill="none" stroke="#3d3d3d" stroke-width="1.15"/>
<rect x="806.10" y="471.50" width="6.75" height="13.8" rx="2.6" fill="none" stroke="#3d3d3d" stroke-width="1.15"/>
<rect x="812.85" y="471.50" width="6.75" height="13.8" rx="2.6" fill="none" stroke="#3d3d3d" stroke-width="1.15"/>
<rect x="819.60" y="471.50" width="6.75" height="13.8" rx="2.6" fill="none" stroke="#3d3d3d" stroke-width="1.15"/>
<circle cx="800.60" cy="518.40" r="5.0" fill="none" stroke="#3d3d3d" stroke-width="1.15"/>
<circle cx="819.30" cy="513.90" r="5.0" fill="none" stroke="#3d3d3d" stroke-width="1.15"/>
<path d="M790.10,520.40 C793.10,523.40 796.60,525.20 800.30,525.20 C805.60,525.20 807.60,520.80 811.70,520.80 H828.50" fill="none" stroke="#3d3d3d" stroke-width="1.15" stroke-linecap="round"/>
<path d="M790.10,525.60 C794.10,527.40 797.10,527.80 800.60,527.70 C805.10,527.60 806.60,525.80 810.60,525.80 H828.50" fill="none" stroke="#3d3d3d" stroke-width="1.15" stroke-linecap="round"/>
<path d="M790.10,530.30 H828.50" fill="none" stroke="#3d3d3d" stroke-width="1.32" stroke-linecap="round"/>
<path d="M823.40,553.10 C819.40,555.60 815.40,557.10 812.90,558.80 C809.90,561.10 807.40,564.10 806.40,567.50 C806.00,566.30 804.80,565.90 804.00,566.70 C802.40,568.60 801.60,573.10 802.40,577.70 C804.40,578.90 808.40,579.50 812.90,577.70 L812.00,576.10 C815.40,575.10 818.40,572.60 821.00,568.70 C822.80,565.10 823.80,558.10 823.40,553.10 Z" fill="none" stroke="#3d3d3d" stroke-width="1.15" stroke-linejoin="round"/>
<path d="M817.80,562.00 C814.40,567.10 809.40,573.10 803.60,577.40 C801.40,578.90 799.40,579.90 797.70,580.60" fill="none" stroke="#3d3d3d" stroke-width="1.15" stroke-linecap="round"/>
<path d="M799.20,592.20 L802.90,597.70 M790.20,598.40 L796.10,603.60 M802.90,597.70 L796.10,603.60 M802.90,597.70 C803.60,600.10 804.60,602.10 806.30,602.80 L823.90,604.50 C825.70,604.70 825.70,607.00 823.70,607.00 L812.70,607.00 M805.70,606.10 L810.50,606.30 C812.30,606.40 812.30,609.20 810.40,609.20 L802.50,609.20 M796.10,603.60 C797.60,606.10 799.30,608.50 802.50,609.20" fill="none" stroke="#3d3d3d" stroke-width="1.15" stroke-linecap="round" stroke-linejoin="round"/>
<path d="M792.10,619.00 V606.70 Q792.10,606.10 792.70,606.10 L795.10,606.10 C797.10,606.50 798.60,609.60 800.50,610.70 C801.70,611.40 802.70,611.40 803.90,611.40 L809.90,611.40 C811.70,611.40 811.90,609.40 813.70,609.40 L821.90,609.20 C824.10,609.10 824.70,606.30 826.70,606.10 L828.00,606.10 Q828.60,606.10 828.60,606.70 V619.00" fill="none" stroke="#3d3d3d" stroke-width="1.15" stroke-linecap="butt" stroke-linejoin="round"/>
<path d="M792.40,621.50 H828.90" stroke="#3d3d3d" stroke-width="1.38" fill="none"/>
<path d="M795.60,610.00 V619.40" stroke="#3d3d3d" stroke-width="1.38" fill="none"/>
<path d="M801.50,613.70 V619.40" stroke="#3d3d3d" stroke-width="1.38" fill="none"/>
<path d="M807.50,613.70 V619.40" stroke="#3d3d3d" stroke-width="1.38" fill="none"/>
<path d="M813.30,612.50 V619.40" stroke="#3d3d3d" stroke-width="1.38" fill="none"/>
<path d="M819.10,611.50 V619.40" stroke="#3d3d3d" stroke-width="1.38" fill="none"/>
<path d="M825.00,610.50 V619.40" stroke="#3d3d3d" stroke-width="1.38" fill="none"/></svg>
</body></html>
